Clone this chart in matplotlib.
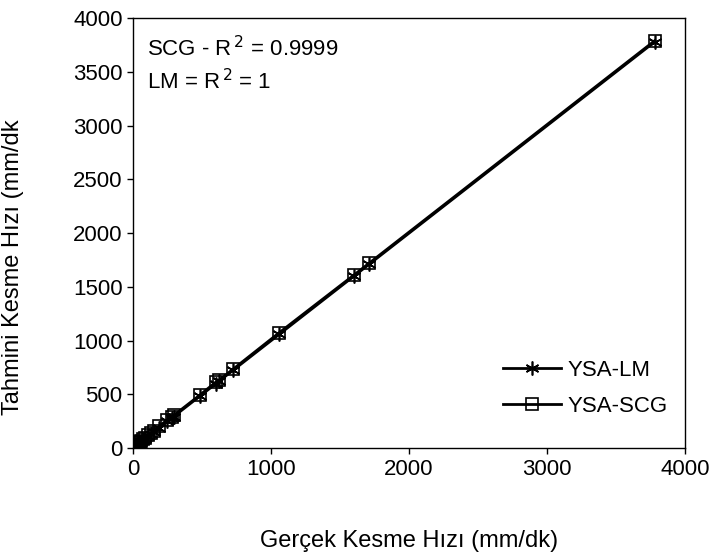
"""Gerçek vs tahmini kesme hızı (YSA-LM / YSA-SCG)."""

import matplotlib
matplotlib.use("Agg")
import matplotlib.pyplot as plt

# Gerçek kesme hızı (mm/dk)
gercek = [5, 8, 12, 16, 20, 25, 30, 40, 50, 60, 75, 90, 110, 130, 150,
          190, 250, 280, 295, 485, 600, 625, 725, 1060, 1600, 1710, 3780]
# YSA-LM tahmini
ysa_lm = [5, 8, 12, 16, 20, 25, 30, 40, 50, 60, 75, 90, 110, 130, 150,
          190, 250, 280, 295, 485, 600, 625, 725, 1060, 1600, 1710, 3780]
# YSA-SCG tahmini
ysa_scg = [6, 9, 13, 17, 22, 27, 33, 44, 55, 66, 82, 98, 120, 140, 160,
           205, 265, 295, 305, 495, 615, 635, 735, 1075, 1610, 1720, 3790]

plt.rcParams['font.family'] = ['Liberation Sans', 'DejaVu Sans']

fig = plt.figure(figsize=(7.15, 5.52), dpi=100)
ax = fig.add_axes([0.186, 0.188, 0.772, 0.779])

ax.plot(gercek, ysa_lm, color='black', lw=2, marker=(6, 2, 0), ms=10,
        mew=1.2, label='YSA-LM')
ax.plot(gercek, ysa_scg, color='black', lw=2, marker='s', ms=8,
        mfc='none', mew=1.2, label='YSA-SCG')

ax.set_xlim(0, 4000)
ax.set_ylim(0, 4000)
ax.set_xticks(range(0, 4001, 1000))
ax.set_yticks(range(0, 4001, 500))
ax.tick_params(direction='out', length=4, width=1, labelsize=16)
for s in ax.spines.values():
    s.set_linewidth(1)

ax.set_xlabel('Gerçek Kesme Hızı (mm/dk)', fontsize=17)
ax.set_ylabel('Tahmini Kesme Hızı (mm/dk', fontsize=17)
ax.xaxis.set_label_coords(0.5, -0.19)
ax.yaxis.set_label_coords(-0.197, 0.42)

ax.text(0.025, 0.93, 'SCG - R$^{\\,2}$ = 0.9999', transform=ax.transAxes,
        fontsize=16, va='center')
ax.text(0.025, 0.853, 'LM = R$^{\\,2}$ = 1', transform=ax.transAxes,
        fontsize=16, va='center')

ax.legend(loc='lower right', frameon=False, fontsize=16,
          handlelength=2.6, handletextpad=0.3, labelspacing=0.65,
          bbox_to_anchor=(1.005, 0.027))

fig.savefig('out.png', dpi=100)
